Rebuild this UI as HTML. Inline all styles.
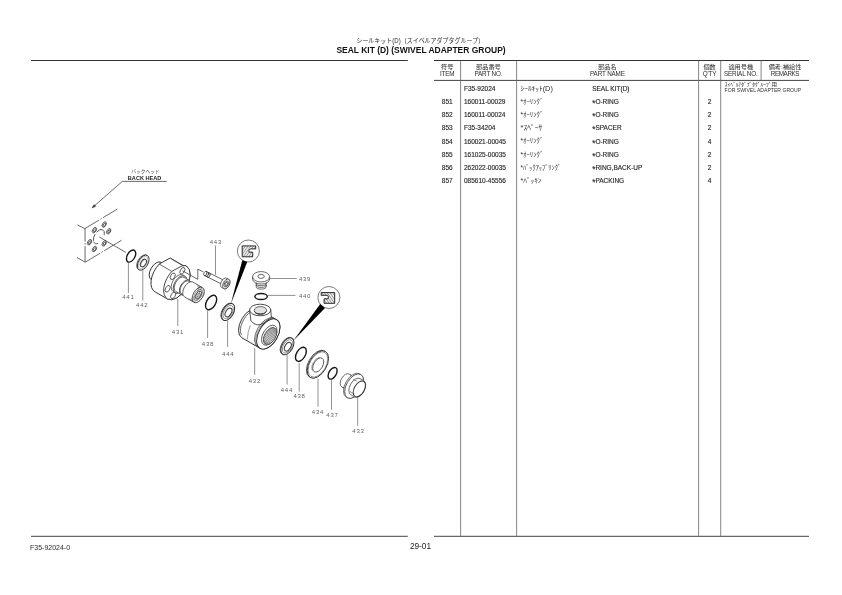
<!DOCTYPE html>
<html lang="ja"><head><meta charset="utf-8"><title>SEAL KIT (D) (SWIVEL ADAPTER GROUP)</title>
<style>
html,body{margin:0;padding:0;background:#fff}
body{filter:grayscale(1);width:842px;height:595px;position:relative;overflow:hidden;font-family:"Liberation Sans",sans-serif;color:#222}
svg{position:absolute;left:0;top:0}
.t{fill:none;stroke:#383838;stroke-width:.75}
.t2{fill:none;stroke:#4a4a4a;stroke-width:.55}
.ld{fill:none;stroke:#555;stroke-width:.65}
.m{fill:none;stroke:#2a2a2a;stroke-width:.95}
.o{fill:none;stroke:#151515;stroke-width:1.4}
.c{fill:#fff;stroke:#444;stroke-width:.7}
.k{stroke:#111;stroke-width:.9;stroke-linejoin:miter}
.w{fill:#000;stroke:none}
.jp{fill:#3a3a3a;font-family:"Liberation Sans","Noto Sans CJK JP",sans-serif}
.jpk{fill:#2a2a2a;font-family:"Liberation Sans","Noto Sans CJK JP",sans-serif}
.jpn{fill:#2e2e2e;font-family:"Liberation Sans","Noto Sans CJK JP",sans-serif}
.lb{font-family:"Liberation Sans",sans-serif;font-size:6px;fill:#606060;text-anchor:middle;letter-spacing:.75px}
.bh{font-family:"Liberation Sans",sans-serif;font-weight:bold;font-size:5.6px;fill:#222;text-anchor:middle}
.ln{stroke:#333;stroke-width:1.1}
.lh{stroke:#444;stroke-width:1}
.lv{stroke:#666;stroke-width:.8}
div{position:absolute;white-space:nowrap;line-height:1}
.ttl{left:221px;width:400px;top:46.1px;text-align:center;font-weight:bold;font-size:8.47px;color:#111}
.hd{font-size:6.3px;top:71px;text-align:center;color:#2a2a2a;letter-spacing:-.15px}
.c1,.c2,.c4,.c5{font-size:6.5px;color:#2a2a2a;-webkit-text-stroke:.15px #2a2a2a}
.a{font-size:8.2px;position:relative;top:2.1px;line-height:0}
.c1{left:434px;width:26.4px;text-align:center}
.c2{left:464px}
.c4{left:592.2px}
.c5{left:698.5px;width:22px;text-align:center}
.rm{left:724.6px;top:87.6px;font-size:5.1px;color:#333}
.f1{left:30px;top:543.6px;font-size:7px;color:#2a2a2a}
.f2{left:390.5px;width:60px;text-align:center;top:541.6px;font-size:8.3px;color:#222}
</style></head><body>
<div class="ttl">SEAL KIT (D) (SWIVEL ADAPTER GROUP)</div>
<div class="hd" style="left:434px;width:26.4px">ITEM</div>
<div class="hd" style="left:460.4px;width:56px">PART NO.</div>
<div class="hd" style="left:516.4px;width:182px">PART NAME</div>
<div class="hd" style="left:698.5px;width:22px">Q'TY</div>
<div class="hd" style="left:720.6px;width:40.4px">SERIAL NO.</div>
<div class="hd" style="left:761px;width:48px;letter-spacing:-.4px">REMARKS</div>
<div class="c2" style="top:86px">F35-92024</div>
<div class="c4" style="top:86px">SEAL KIT(D)</div>
<div class="c1" style="top:99px">851</div>
<div class="c2" style="top:99px">160011-00029</div>
<div class="c4" style="top:99px"><span class="a">*</span>O-RING</div>
<div class="c5" style="top:99px">2</div>
<div class="c1" style="top:112px">852</div>
<div class="c2" style="top:112px">160011-00024</div>
<div class="c4" style="top:112px"><span class="a">*</span>O-RING</div>
<div class="c5" style="top:112px">2</div>
<div class="c1" style="top:125px">853</div>
<div class="c2" style="top:125px">F35-34204</div>
<div class="c4" style="top:125px"><span class="a">*</span>SPACER</div>
<div class="c5" style="top:125px">2</div>
<div class="c1" style="top:139px">854</div>
<div class="c2" style="top:139px">160021-00045</div>
<div class="c4" style="top:139px"><span class="a">*</span>O-RING</div>
<div class="c5" style="top:139px">4</div>
<div class="c1" style="top:152px">855</div>
<div class="c2" style="top:152px">161025-00035</div>
<div class="c4" style="top:152px"><span class="a">*</span>O-RING</div>
<div class="c5" style="top:152px">2</div>
<div class="c1" style="top:165px">856</div>
<div class="c2" style="top:165px">262022-00035</div>
<div class="c4" style="top:165px"><span class="a">*</span>RING,BACK-UP</div>
<div class="c5" style="top:165px">2</div>
<div class="c1" style="top:178px">857</div>
<div class="c2" style="top:178px">085610-45556</div>
<div class="c4" style="top:178px"><span class="a">*</span>PACKING</div>
<div class="c5" style="top:178px">4</div>
<div class="rm">FOR SWIVEL ADAPTER GROUP</div>
<div class="f1">F35-92024-0</div>
<div class="f2">29-01</div>
<svg width="842" height="595" viewBox="0 0 842 595">
<defs>
<pattern id="h1" width="2.2" height="2.2" patternUnits="userSpaceOnUse" patternTransform="rotate(-55)"><rect width="2.2" height="2.2" fill="#ececec"/><line x1="0" y1="1.1" x2="2.2" y2="1.1" stroke="#777" stroke-width=".6"/></pattern>
<pattern id="h2" width="2.2" height="2.2" patternUnits="userSpaceOnUse" patternTransform="rotate(55)"><rect width="2.2" height="2.2" fill="#ececec"/><line x1="0" y1="1.1" x2="2.2" y2="1.1" stroke="#777" stroke-width=".6"/></pattern>
</defs>
<g id="frame">
<line class="ln" x1="31" y1="60.5" x2="407.8" y2="60.5"/>
<line class="lh" x1="31" y1="536.3" x2="407.8" y2="536.3"/>
<line class="ln" x1="434" y1="60.5" x2="809" y2="60.5"/>
<line class="lh" x1="434" y1="80.4" x2="809" y2="80.4"/>
<line class="lh" x1="434" y1="536.3" x2="809" y2="536.3"/>
<line class="lv" x1="460.6" y1="60.5" x2="460.6" y2="536.3"/>
<line class="lv" x1="516.6" y1="60.5" x2="516.6" y2="536.3"/>
<line class="lv" x1="698.6" y1="60.5" x2="698.6" y2="536.3"/>
<line class="lv" x1="720.7" y1="60.5" x2="720.7" y2="536.3"/>
<line class="lv" x1="761.1" y1="60.5" x2="761.1" y2="80.4"/>
</g>
<g id="text">
<text class="jpk" x="356.4" y="42.6" font-size="6.4" textLength="127.8" lengthAdjust="spacingAndGlyphs">シールキット(D)（スイベルアダプタグループ）</text>
<text class="jpk" x="447.2" y="69" font-size="6.2" text-anchor="middle">符号</text>
<text class="jpk" x="488.4" y="69" font-size="6.2" text-anchor="middle">部品番号</text>
<text class="jpk" x="607.4" y="69" font-size="6.2" text-anchor="middle">部品名</text>
<text class="jpk" x="709.6" y="69" font-size="6.2" text-anchor="middle">個数</text>
<text class="jpk" x="740.8" y="69" font-size="6.2" text-anchor="middle">適用号機</text>
<text class="jpk" x="785" y="69" font-size="6.2" text-anchor="middle">備考:補給性</text>
<text class="jpn" x="520.5" y="91" font-size="6.6" textLength="32.4" lengthAdjust="spacingAndGlyphs">ｼｰﾙｷｯﾄ(D)</text>
<text class="jpn" x="520.5" y="104.2" font-size="6.6" textLength="22.8" lengthAdjust="spacingAndGlyphs">*ｵｰﾘﾝｸﾞ</text>
<text class="jpn" x="520.5" y="117.3" font-size="6.6" textLength="22.8" lengthAdjust="spacingAndGlyphs">*ｵｰﾘﾝｸﾞ</text>
<text class="jpn" x="520.5" y="130.3" font-size="6.6" textLength="21.9" lengthAdjust="spacingAndGlyphs">*ｽﾍﾟｰｻ</text>
<text class="jpn" x="520.5" y="143.4" font-size="6.6" textLength="22.8" lengthAdjust="spacingAndGlyphs">*ｵｰﾘﾝｸﾞ</text>
<text class="jpn" x="520.5" y="156.5" font-size="6.6" textLength="22.8" lengthAdjust="spacingAndGlyphs">*ｵｰﾘﾝｸﾞ</text>
<text class="jpn" x="520.5" y="169.5" font-size="6.6" textLength="40.5" lengthAdjust="spacingAndGlyphs">*ﾊﾞｯｸｱｯﾌﾟﾘﾝｸﾞ</text>
<text class="jpn" x="520.5" y="182.6" font-size="6.6" textLength="20.9" lengthAdjust="spacingAndGlyphs">*ﾊﾟｯｷﾝ</text>
<text class="jpk" x="724.8" y="86" font-size="5.1" textLength="52.2" lengthAdjust="spacingAndGlyphs">ｽｲﾍﾞﾙｱﾀﾞﾌﾟﾀｸﾞﾙｰﾌﾟ用</text>
</g>
<g id="diagram">
<text class="jp" x="131.2" y="173.2" font-size="5" textLength="28.6" lengthAdjust="spacingAndGlyphs">バックヘッド</text>
<text class="bh" x="144.6" y="179.6">BACK HEAD</text>
<path class="t" d="M166.6 181.4H122.4L93.5 206.6"/>
<path class="t" d="M92.2 207.8L95.6 206.3L94.2 204.7Z" style="fill:#444"/>
<line class="t" x1="77.4" y1="224.9" x2="84.8" y2="228.6"/>
<line class="t" x1="84.8" y1="228.6" x2="117.3" y2="209.1" stroke-dasharray="16.7 1.5 1.5 1.5 30"/>
<line class="t" x1="85.05" y1="228.6" x2="85.05" y2="262.2" stroke-dasharray="13 1.5 1.5 1.5 30"/>
<line class="t" x1="77" y1="257.5" x2="85.2" y2="262.2"/>
<line class="t" x1="85.2" y1="262.2" x2="121.5" y2="240.3" stroke-dasharray="17.6 1.5 1.5 1.5 30"/>
<ellipse class="t" cx="94.4" cy="230.1" rx="1.73" ry="3" transform="rotate(30 94.4 230.1)"/>
<ellipse class="t" cx="94.65" cy="230.25" rx="0.98" ry="1.7" transform="rotate(30 94.65 230.25)"/>
<ellipse class="t" cx="104.2" cy="224.5" rx="1.73" ry="3" transform="rotate(30 104.2 224.5)"/>
<ellipse class="t" cx="104.45" cy="224.65" rx="0.98" ry="1.7" transform="rotate(30 104.45 224.65)"/>
<ellipse class="t" cx="108.7" cy="231.3" rx="1.73" ry="3" transform="rotate(30 108.7 231.3)"/>
<ellipse class="t" cx="108.95" cy="231.45" rx="0.98" ry="1.7" transform="rotate(30 108.95 231.45)"/>
<ellipse class="t" cx="104.2" cy="243.4" rx="1.73" ry="3" transform="rotate(30 104.2 243.4)"/>
<ellipse class="t" cx="104.45" cy="243.55" rx="0.98" ry="1.7" transform="rotate(30 104.45 243.55)"/>
<ellipse class="t" cx="94.4" cy="249" rx="1.73" ry="3" transform="rotate(30 94.4 249)"/>
<ellipse class="t" cx="94.65" cy="249.15" rx="0.98" ry="1.7" transform="rotate(30 94.65 249.15)"/>
<ellipse class="t" cx="89.5" cy="242.2" rx="1.73" ry="3" transform="rotate(30 89.5 242.2)"/>
<ellipse class="t" cx="89.75" cy="242.35" rx="0.98" ry="1.7" transform="rotate(30 89.75 242.35)"/>
<path class="t" d="M104.23 235.17A7.8 4.5 120 0 0 96.57 232.18M95.14 234.12A7.8 4.5 120 0 0 93.47 240.84M93.69 241.68A7.8 4.5 120 0 0 97.94 243.42" style="stroke-width:.85"/>
<line class="t" x1="99.3" y1="237" x2="125.8" y2="252.4"/>
<ellipse class="o" cx="131.1" cy="256.1" rx="3.81" ry="6.6" transform="rotate(30 131.1 256.1)"/>
<line class="ld" x1="128.4" y1="262.8" x2="128.4" y2="293"/>
<text class="lb" x="128.35" y="299.4">441</text>
<ellipse class="t" cx="142.5" cy="262.3" rx="4.73" ry="8.2" transform="rotate(30 142.5 262.3)" style="fill:#fff"/>
<ellipse class="m" cx="143.2" cy="262.7" rx="4.79" ry="8.3" transform="rotate(30 143.2 262.7)" style="fill:#fff;stroke-width:.85"/>
<ellipse class="t2" cx="143.2" cy="262.7" rx="3.92" ry="6.8" transform="rotate(30 143.2 262.7)" style="stroke:#777;stroke-width:.45"/>
<ellipse class="m" cx="143.4" cy="263" rx="2.48" ry="4.3" transform="rotate(30 143.4 263)" style="stroke-width:.9"/>
<path class="t2" d="M145.19 259.38A4.3 2.48 120 0 0 141.14 266.38"/>
<line class="ld" x1="142.8" y1="270.3" x2="142.8" y2="300.5"/>
<text class="lb" x="142.25" y="306.5">442</text>
<path class="m" d="M161.2 262.34A10 5.77 120 0 0 151.2 279.66L155.53 282.16A10 5.77 120 0 0 165.53 264.84Z" style="fill:#fff"/>
<path class="m" d="M170.2 258L159.2 264A19 10.96 120 0 0 155.4 292.05L167.4 298.95A19 10.96 120 0 0 186.4 266.05L182.9 265.4Z" style="fill:#fff"/>
<path class="m" d="M182.9 265.4L171.8 271.4A19 10.96 120 0 0 167.4 298.95A19 10.96 120 0 0 186.4 266.05A19 10.96 120 0 0 182.9 265.4" style="fill:#fff;stroke-width:.85"/>
<line class="t" x1="159.2" y1="264" x2="171.8" y2="271.4"/>
<path class="t2" d="M171.2 258.9L184.3 266.6"/>
<ellipse class="t" cx="182.4" cy="270.8" rx="2.08" ry="3.6" transform="rotate(30 182.4 270.8)"/>
<ellipse class="t" cx="172.7" cy="276.3" rx="2.08" ry="3.6" transform="rotate(30 172.7 276.3)"/>
<ellipse class="t" cx="167.6" cy="288.8" rx="2.08" ry="3.6" transform="rotate(30 167.6 288.8)"/>
<ellipse class="t" cx="173.2" cy="295.3" rx="2.08" ry="3.6" transform="rotate(30 173.2 295.3)"/>
<path class="t" d="M182.6 274.89A9.6 5.54 120 0 0 173 291.51L175.17 292.76A9.6 5.54 120 0 0 184.77 276.14Z" style="fill:#fff"/><ellipse class="t" cx="179.97" cy="284.45" rx="5.54" ry="9.6" transform="rotate(30 179.97 284.45)" style="fill:#fff"/>
<path class="t" d="M184.07 277.35A8.2 4.73 120 0 0 175.87 291.55L181.06 294.55A8.2 4.73 120 0 0 189.26 280.35Z" style="fill:#fff"/><ellipse class="t" cx="185.16" cy="287.45" rx="4.73" ry="8.2" transform="rotate(30 185.16 287.45)" style="fill:#fff"/>
<path class="t" d="M188.76 281.21A7.2 4.15 120 0 0 181.56 293.69L185.03 295.69A7.2 4.15 120 0 0 192.23 283.21Z" style="fill:#fff"/><ellipse class="t" cx="188.63" cy="289.45" rx="4.15" ry="7.2" transform="rotate(30 188.63 289.45)" style="fill:#fff"/>
<path class="t" d="M192.88 282.09A8.5 4.9 120 0 0 184.38 296.81L193.9 302.31A8.5 4.9 120 0 0 202.4 287.59Z" style="fill:#fff"/><ellipse class="t" cx="198.15" cy="294.95" rx="4.9" ry="8.5" transform="rotate(30 198.15 294.95)" style="fill:#fff"/>
<ellipse class="t2" cx="198.15" cy="294.95" rx="3.46" ry="6" transform="rotate(30 198.15 294.95)"/>
<ellipse class="t" cx="198.35" cy="295.05" rx="2.42" ry="4.2" transform="rotate(30 198.35 295.05)"/>
<ellipse class="t2" cx="198.45" cy="295.15" rx="1.33" ry="2.3" transform="rotate(30 198.45 295.15)"/>
<path class="t2" d="M188.27 299.06A8.5 4.9 120 0 0 196.77 284.34"/>
<path class="t2" d="M190 300.06A8.5 4.9 120 0 0 198.5 285.34"/>
<path class="t2" d="M191.74 301.06A8.5 4.9 120 0 0 200.24 286.34"/>
<line class="ld" x1="177.8" y1="298.8" x2="177.8" y2="326"/>
<text class="lb" x="177.95" y="333.9">431</text>
<path class="t" d="M182.4 270.8L197.8 279.3V269.1L203.4 271.9"/>
<g transform="rotate(-3.4 205.2 273.4)">
<path class="t" d="M206.3 271.49A2.2 1.27 120 0 0 204.1 275.31L222.46 285.91A2.2 1.27 120 0 0 224.66 282.09Z" style="fill:#fff"/><ellipse class="t" cx="223.56" cy="284" rx="1.27" ry="2.2" transform="rotate(30 223.56 284)" style="fill:#fff"/>
<path class="m" d="M203.98 275.43A2.4 1.38 120 1 0 206.35 271.33"/>
<path class="m" d="M205.54 276.33A2.4 1.38 120 1 0 207.91 272.23"/>
<path class="m" d="M207.1 277.23A2.4 1.38 120 1 0 209.46 273.13"/>
<path class="t" d="M226.21 279.41A5.3 3.06 120 0 0 220.91 288.59L222.99 289.79A5.3 3.06 120 0 0 228.29 280.61Z" style="fill:#fff"/><ellipse class="t" cx="225.64" cy="285.2" rx="3.06" ry="5.3" transform="rotate(30 225.64 285.2)" style="fill:#fff"/>
<ellipse class="t" cx="225.64" cy="285.2" rx="1.9" ry="3.3" transform="rotate(30 225.64 285.2)"/>
<ellipse class="t" cx="225.64" cy="285.2" rx="1.04" ry="1.8" transform="rotate(30 225.64 285.2)"/>
</g>
<line class="ld" x1="215.5" y1="245.5" x2="215.5" y2="274.9"/>
<text class="lb" x="215.85" y="244.1">443</text>
<ellipse class="o" cx="211.1" cy="302.5" rx="4.56" ry="7.9" transform="rotate(30 211.1 302.5)"/>
<line class="ld" x1="207.6" y1="310.3" x2="207.6" y2="338"/>
<text class="lb" x="207.95" y="346.3">438</text>
<ellipse class="t" cx="227.4" cy="311.6" rx="5.37" ry="9.3" transform="rotate(30 227.4 311.6)" style="fill:#fff"/>
<ellipse class="m" cx="228.1" cy="312" rx="5.37" ry="9.3" transform="rotate(30 228.1 312)" style="fill:#fff"/>
<ellipse class="t2" cx="228.2" cy="312.1" rx="4.21" ry="7.3" transform="rotate(30 228.2 312.1)"/>
<ellipse class="m" cx="228.5" cy="312.4" rx="2.77" ry="4.8" transform="rotate(30 228.5 312.4)"/>
<line class="ld" x1="227.6" y1="320.6" x2="227.6" y2="347"/>
<text class="lb" x="228.25" y="355.9">444</text>
<circle class="c" cx="248.4" cy="251" r="11"/>
<path class="k" d="M242.2 245.9H255.7V248.9H250.3Q248 250.5 249.2 252.2H252.7V256.8H242.2Z" style="fill:url(#h1)"/>
<path class="w" d="M242.3 260.3L247.2 261.9L230.8 304Z"/>
<path class="t" d="M256.2 282V286.6A5 2.5 0 0 0 266.2 286.6V282Z" style="fill:#fff"/>
<path class="t" d="M256.2 283.2A5 2.5 0 0 0 266.2 283.2"/>
<path class="t" d="M256.2 284.9A5 2.5 0 0 0 266.2 284.9"/>
<path class="t" d="M252.6 277V279A8.5 5.1 0 0 0 269.6 279V277Z" style="fill:#fff"/>
<ellipse class="t" cx="261.1" cy="276.8" rx="8.5" ry="5.2" style="fill:#fff"/>
<ellipse class="t" cx="261.1" cy="276.4" rx="3.2" ry="2"/>
<line class="ld" x1="269.8" y1="278.5" x2="296.8" y2="278.5"/>
<text class="lb" x="305.05" y="280.8">439</text>
<ellipse class="o" cx="261.1" cy="296.5" rx="6.2" ry="3.0"/>
<line class="ld" x1="268" y1="295.4" x2="295.5" y2="295.4"/>
<text class="lb" x="305.05" y="297.9">440</text>
<path class="m" d="M258.45 309.26A16.5 9.52 120 0 0 241.95 337.84L260.05 348.29A16.5 9.52 120 0 0 276.55 319.71Z" style="fill:#fff"/>
<path class="t" d="M255.05 310.24A15.4 8.89 120 0 0 241.3 334.9"/>
<path class="t2" d="M250.3 325.4Q247.6 332 247.3 339.6"/>
<path class="m" d="M249.6 310L250.9 320.8Q256.5 327.5 263.5 323.2L271.3 317.6L270.8 310Z" style="fill:#fff;stroke-width:.8"/>
<ellipse class="m" cx="260.2" cy="310" rx="10.6" ry="5.8" style="fill:#fff;stroke-width:.85"/>
<ellipse class="t" cx="260.4" cy="310.4" rx="6.2" ry="3.9" style="fill:#e2e2e2"/>
<path class="t" d="M254.6 311.2A5.8 3 0 0 0 266.2 311.2M255.4 312.6A5.4 2.2 0 0 0 265.4 312.6"/>
<path class="t" d="M273.56 318.09A16.5 9.52 120 0 0 257.97 347.09"/>
<path class="t2" d="M273.95 318.5A16.5 9.52 120 0 0 258.32 347.22"/>
<ellipse class="m" cx="268.3" cy="334" rx="9.52" ry="16.5" transform="rotate(30 268.3 334)" style="fill:#fff"/>
<ellipse class="t" cx="269.3" cy="335.2" rx="6.35" ry="11" transform="rotate(30 269.3 335.2)"/>
<ellipse class="t" cx="270" cy="336" rx="5.37" ry="9.3" transform="rotate(30 270 336)" style="fill:#f4f4f4"/>
<clipPath id="cp432"><ellipse cx="270" cy="336" rx="5.37" ry="9.3" transform="rotate(30 270 336)"/></clipPath>
<g clip-path="url(#cp432)">
<ellipse class="t2" cx="268.92" cy="335.38" rx="5.37" ry="9.3" transform="rotate(30 268.92 335.38)"/>
<ellipse class="t2" cx="267.83" cy="334.75" rx="5.37" ry="9.3" transform="rotate(30 267.83 334.75)"/>
<ellipse class="t2" cx="266.75" cy="334.12" rx="5.37" ry="9.3" transform="rotate(30 266.75 334.12)"/>
<ellipse class="t2" cx="265.67" cy="333.5" rx="5.37" ry="9.3" transform="rotate(30 265.67 333.5)"/>
<ellipse class="t2" cx="264.59" cy="332.88" rx="5.37" ry="9.3" transform="rotate(30 264.59 332.88)"/>
<ellipse class="t2" cx="263.5" cy="332.25" rx="5.37" ry="9.3" transform="rotate(30 263.5 332.25)"/>
<ellipse class="t2" cx="262.42" cy="331.62" rx="5.37" ry="9.3" transform="rotate(30 262.42 331.62)"/>
<ellipse class="t2" cx="261.34" cy="331" rx="5.37" ry="9.3" transform="rotate(30 261.34 331)"/>
</g>
<line class="ld" x1="254.7" y1="348.3" x2="254.7" y2="374.8"/>
<text class="lb" x="254.85" y="382.9">432</text>
<ellipse class="t" cx="286.7" cy="345.9" rx="5.37" ry="9.3" transform="rotate(30 286.7 345.9)" style="fill:#fff"/>
<ellipse class="m" cx="287.4" cy="346.3" rx="5.37" ry="9.3" transform="rotate(30 287.4 346.3)" style="fill:#fff"/>
<ellipse class="t2" cx="287.5" cy="346.4" rx="4.21" ry="7.3" transform="rotate(30 287.5 346.4)"/>
<ellipse class="m" cx="287.8" cy="346.7" rx="2.77" ry="4.8" transform="rotate(30 287.8 346.7)"/>
<line class="ld" x1="287.1" y1="354.6" x2="287.1" y2="384.5"/>
<text class="lb" x="286.85" y="391.5">444</text>
<circle class="c" cx="328.9" cy="297.5" r="11"/>
<path class="k" d="M321.2 292.6H334.7V303.3H324.1V298.8H327.8Q329.3 297 327.6 295.3H321.2Z" style="fill:url(#h2)"/>
<path class="w" d="M320.2 304.1L325 308L293.3 340.8Z"/>
<ellipse class="o" cx="300.9" cy="354.3" rx="4.44" ry="7.7" transform="rotate(30 300.9 354.3)"/>
<line class="ld" x1="299.2" y1="362.9" x2="299.2" y2="391.6"/>
<text class="lb" x="299.55" y="398.3">438</text>
<ellipse class="t" cx="317.1" cy="364" rx="8.71" ry="15.1" transform="rotate(30 317.1 364)" style="fill:#fff"/>
<ellipse class="m" cx="317.9" cy="364.5" rx="8.71" ry="15.1" transform="rotate(30 317.9 364.5)" style="fill:#fff;stroke-width:.85"/>
<ellipse class="t" cx="318.2" cy="365" rx="4.5" ry="7.8" transform="rotate(30 318.2 365)"/>
<path class="t2" d="M319.73 357.38A7.8 4.5 120 0 0 312.88 370.76"/>
<ellipse class="t2" cx="317.9" cy="364.5" rx="8.02" ry="13.9" transform="rotate(30 317.9 364.5)"/>
<line class="ld" x1="318" y1="378.8" x2="318" y2="406.7"/>
<text class="lb" x="317.95" y="414">434</text>
<ellipse class="o" cx="332.6" cy="373.3" rx="3.69" ry="6.4" transform="rotate(30 332.6 373.3)"/>
<line class="ld" x1="331.5" y1="380.2" x2="331.5" y2="409.7"/>
<text class="lb" x="332.45" y="416.5">437</text>
<path class="t" d="M349.1 373.99A7.4 4.27 120 0 0 341.7 386.81L347.76 390.31A7.4 4.27 120 0 0 355.16 377.49Z" style="fill:#fff"/>
<path class="t" d="M342.78 387.4A7.4 4.27 120 1 0 350.15 374.63"/>
<path class="t" d="M344.16 388.2A7.4 4.27 120 1 0 351.53 375.43"/>
<path class="t" d="M345.55 389A7.4 4.27 120 1 0 352.92 376.23"/>
<path class="t" d="M359.55 373.8A13.4 7.73 120 0 0 346.15 397L347.45 397.75A13.4 7.73 120 0 0 360.85 374.55Z" style="fill:#fff"/><ellipse class="t" cx="354.15" cy="386.15" rx="7.73" ry="13.4" transform="rotate(30 354.15 386.15)" style="fill:#fff"/>
<path class="t" d="M359.95 378.55A9.3 5.37 120 0 0 350.65 394.65L354.63 396.95A9.3 5.37 120 0 0 363.93 380.85Z" style="fill:#fff"/>
<ellipse class="m" cx="359.3" cy="388.9" rx="5.02" ry="8.7" transform="rotate(30 359.3 388.9)" style="fill:#fff"/>
<path class="t2" d="M350 391.6L354.6 394.4M353 379.2L357.2 381.4"/>
<line class="ld" x1="357.7" y1="397.6" x2="357.7" y2="425.8"/>
<text class="lb" x="358.45" y="432.6">433</text>
</g>
</svg>
</body></html>
